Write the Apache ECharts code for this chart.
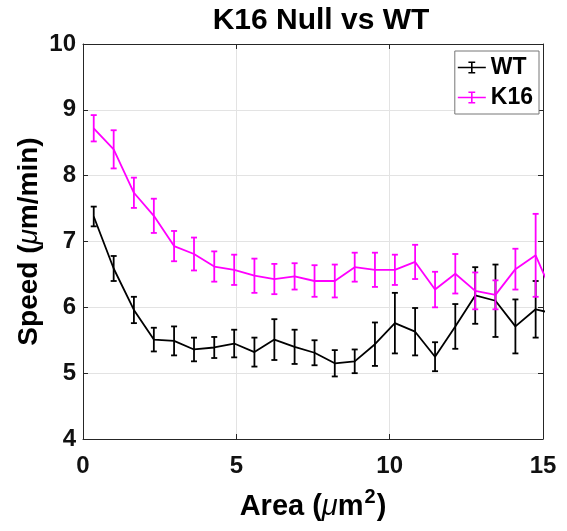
<!DOCTYPE html>
<html>
<head>
<meta charset="utf-8">
<script src="https://cdn.jsdelivr.net/npm/echarts@6/dist/echarts.min.js"></script>
<style>
html,body{margin:0;padding:0;background:#fff;}
#chart{width:567px;height:531px;}
</style>
</head>
<body>
<div id="chart"></div>
<script>
// ---- data ----
const areaX = [0.35, 1.0, 1.66, 2.31, 2.97, 3.62, 4.28, 4.93, 5.59, 6.24, 6.90, 7.55, 8.21, 8.86, 9.52, 10.17, 10.83, 11.48, 12.14, 12.79, 13.45, 14.10, 14.76, 15.41];
const wtMean = [7.38, 6.59, 5.96, 5.51, 5.49, 5.36, 5.39, 5.45, 5.32, 5.51, 5.40, 5.31, 5.15, 5.18, 5.44, 5.76, 5.63, 5.25, 5.71, 6.18, 6.10, 5.71, 5.97, 5.90];
const wtErr  = [0.15, 0.19, 0.20, 0.18, 0.22, 0.18, 0.16, 0.21, 0.22, 0.31, 0.26, 0.19, 0.20, 0.18, 0.33, 0.46, 0.36, 0.22, 0.34, 0.43, 0.55, 0.41, 0.43, 0.30];
const k16Mean = [8.72, 8.40, 7.74, 7.39, 6.93, 6.81, 6.62, 6.57, 6.48, 6.43, 6.47, 6.40, 6.40, 6.61, 6.57, 6.57, 6.69, 6.27, 6.51, 6.25, 6.19, 6.58, 6.79, 6.10];
const k16Err  = [0.20, 0.29, 0.23, 0.26, 0.23, 0.25, 0.23, 0.23, 0.26, 0.23, 0.20, 0.24, 0.25, 0.22, 0.26, 0.23, 0.26, 0.27, 0.30, 0.28, 0.22, 0.31, 0.63, 0.30];
const seriesNames = ['WT', 'K16'];
const seriesColors = ['#000000', '#FF00FF'];
const xTicks = [0, 5, 10, 15];
const yTicks = [4, 5, 6, 7, 8, 9, 10];

const FONT = '"Liberation Sans", Arial, Helvetica, sans-serif';
const AXIS_COLOR = '#262626';

function lineData(means) { return areaX.map((x, i) => [x, means[i]]); }
function errData(means, errs) { return areaX.map((x, i) => [x, means[i], errs[i]]); }

function errRender(color) {
  return function (params, api) {
    const x = api.value(0), y = api.value(1), e = api.value(2);
    const top = api.coord([x, y + e]);
    const bot = api.coord([x, y - e]);
    const hw = 3;
    const style = { stroke: color, lineWidth: 1.8 };
    return {
      type: 'group',
      children: [
        { type: 'line', shape: { x1: top[0], y1: top[1], x2: bot[0], y2: bot[1] }, style: style },
        { type: 'line', shape: { x1: top[0] - hw, y1: top[1], x2: top[0] + hw, y2: top[1] }, style: style },
        { type: 'line', shape: { x1: bot[0] - hw, y1: bot[1], x2: bot[0] + hw, y2: bot[1] }, style: style }
      ]
    };
  };
}

// legend glyph: horizontal line with an error bar in the middle
const legendIcon = 'path://M0,5.3h28v1.4h-28z M13.2,0h1.6v12h-1.6z M10.6,0h6.8v1.5h-6.8z M10.6,10.5h6.8v1.5h-6.8z';

const means = [wtMean, k16Mean];
const errs = [wtErr, k16Err];
const series = [];
seriesNames.forEach((name, i) => {
  series.push({
    name: name,
    type: 'line',
    data: lineData(means[i]),
    showSymbol: false,
    symbol: 'none',
    clip: true,
    z: 2 + i * 2,
    lineStyle: { color: seriesColors[i], width: 1.8 },
    itemStyle: { color: seriesColors[i] }
  });
  series.push({
    name: name,
    type: 'custom',
    data: errData(means[i], errs[i]),
    encode: { x: 0, y: 1 },
    clip: true,
    z: 3 + i * 2,
    renderItem: errRender(seriesColors[i]),
    itemStyle: { color: seriesColors[i] }
  });
});

const tickLabel = { fontFamily: FONT, fontSize: 24, fontWeight: 'bold', color: '#111' };

const option = {
  backgroundColor: '#fff',
  animation: false,
  title: {
    text: 'K16 Null vs WT',
    left: 321,
    top: 6,
    padding: 0,
    textAlign: 'center',
    textStyle: { fontFamily: FONT, fontSize: 30, fontWeight: 'bold', color: '#000' }
  },
  legend: {
    data: seriesNames.map(n => ({ name: n, icon: legendIcon })),
    orient: 'vertical',
    right: 28,
    top: 51,
    padding: [5, 6, 5, 3],
    itemGap: 7,
    itemWidth: 28,
    itemHeight: 12,
    symbolKeepAspect: true,
    backgroundColor: '#fff',
    borderColor: '#777',
    borderWidth: 1,
    textStyle: { fontFamily: FONT, fontSize: 23, fontWeight: 'bold', color: '#000' }
  },
  grid: { left: 83, right: 24, top: 44, bottom: 92, containLabel: false },
  xAxis: [{
    type: 'value',
    min: xTicks[0], max: xTicks[xTicks.length - 1], interval: 5,
    name: '{t|Area (}{mu|μ}{t|m}{sup|2}{t|)}',
    nameLocation: 'middle',
    nameGap: 48,
    nameMoveOverlap: false,
    nameTextStyle: {
      rich: {
        t: { fontFamily: FONT, fontSize: 29, fontWeight: 'bold', color: '#000' },
        mu: { fontFamily: FONT, fontSize: 29, fontStyle: 'italic', fontWeight: 'normal', color: '#000' },
        sup: { fontFamily: FONT, fontSize: 20, fontWeight: 'bold', color: '#000', padding: [0, 1, 20, 1] }
      }
    },
    axisLine: { show: true, lineStyle: { color: AXIS_COLOR, width: 1 } },
    axisTick: { show: true, inside: true, length: 5, lineStyle: { color: AXIS_COLOR } },
    axisLabel: Object.assign({ margin: 15 }, tickLabel),
    splitLine: { show: true, lineStyle: { color: '#e3e3e3', width: 1 } }
  }, {
    type: 'value', position: 'top',
    min: xTicks[0], max: xTicks[xTicks.length - 1], interval: 5,
    axisLine: { show: true, onZero: false, lineStyle: { color: AXIS_COLOR, width: 1 } },
    axisTick: { show: true, inside: true, length: 5, lineStyle: { color: AXIS_COLOR } },
    axisLabel: { show: false },
    splitLine: { show: false }
  }],
  yAxis: [{
    type: 'value',
    min: yTicks[0], max: yTicks[yTicks.length - 1], interval: 1,
    name: '{t|Speed (}{mu|μ}{t|m/min)}',
    nameLocation: 'middle',
    nameGap: 40,
    nameMoveOverlap: false,
    nameTextStyle: {
      rich: {
        t: { fontFamily: FONT, fontSize: 28, fontWeight: 'bold', color: '#000' },
        mu: { fontFamily: FONT, fontSize: 28, fontStyle: 'italic', fontWeight: 'normal', color: '#000' }
      }
    },
    axisLine: { show: true, lineStyle: { color: AXIS_COLOR, width: 1 } },
    axisTick: { show: true, inside: true, length: 5, lineStyle: { color: AXIS_COLOR } },
    axisLabel: Object.assign({ margin: 7 }, tickLabel),
    splitLine: { show: true, lineStyle: { color: '#e3e3e3', width: 1 } }
  }, {
    type: 'value', position: 'right',
    min: yTicks[0], max: yTicks[yTicks.length - 1], interval: 1,
    axisLine: { show: true, onZero: false, lineStyle: { color: AXIS_COLOR, width: 1 } },
    axisTick: { show: true, inside: true, length: 5, lineStyle: { color: AXIS_COLOR } },
    axisLabel: { show: false },
    splitLine: { show: false }
  }],
  series: series
};

const chart = echarts.init(document.getElementById('chart'), null, { renderer: 'canvas' });
chart.setOption(option);
</script>
</body>
</html>
